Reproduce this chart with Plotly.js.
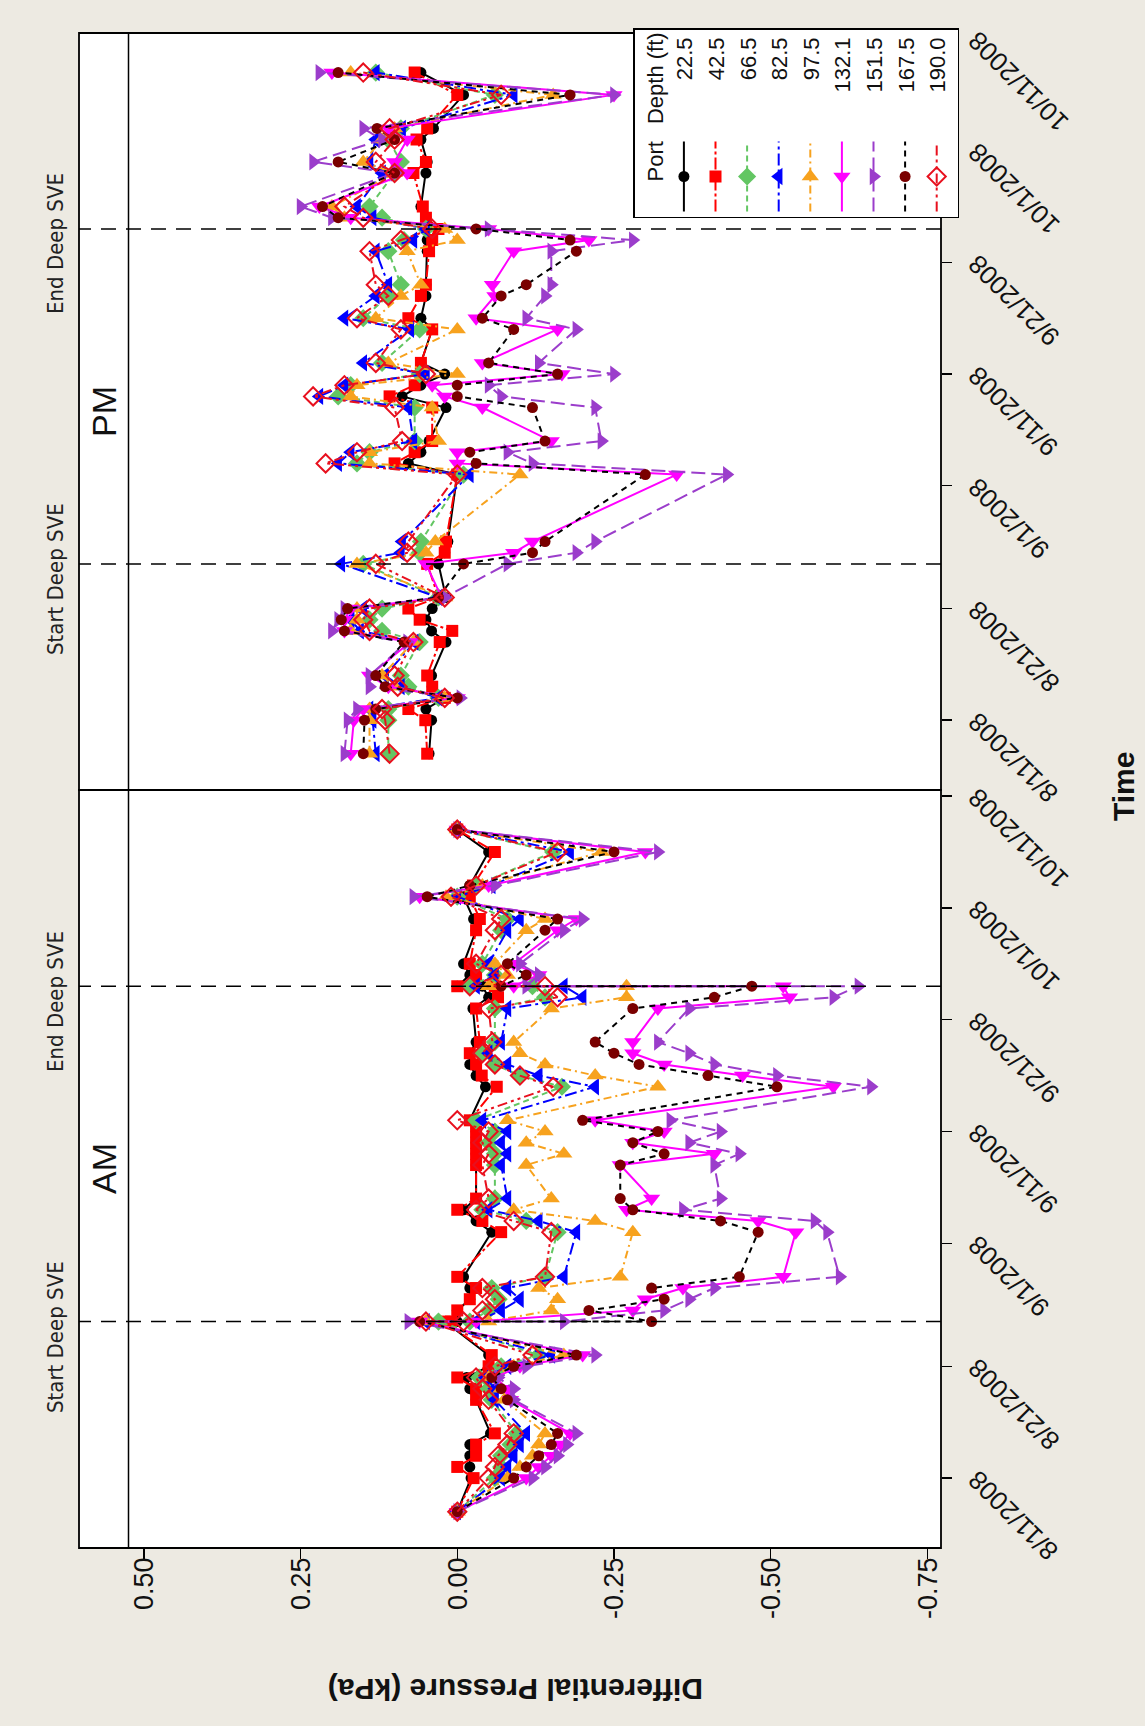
<!DOCTYPE html>
<html>
<head>
<meta charset="utf-8">
<script src="https://cdn.plot.ly/plotly-3.0.1.min.js"></script>
<style>
  html, body { margin: 0; padding: 0; background: #EDEAE2; overflow: hidden; }
  #page { position: relative; width: 1145px; height: 1726px; overflow: hidden; background: #EDEAE2; }
  #chart { position: absolute; left: 0; top: 0; width: 1726px; height: 1145px; transform-origin: 0 0; }
</style>
</head>
<body>
<div id="page"><div id="chart"></div></div>
<script>
// Sampling dates (AM and PM readings)
const amDates = ['2008-08-08','2008-08-11','2008-08-12','2008-08-13','2008-08-14','2008-08-15','2008-08-18','2008-08-19','2008-08-20','2008-08-21','2008-08-22','2008-08-25','2008-08-25','2008-08-26','2008-08-27','2008-08-28','2008-08-29','2008-09-02','2008-09-03','2008-09-04','2008-09-05','2008-09-08','2008-09-09','2008-09-10','2008-09-11','2008-09-12','2008-09-15','2008-09-16','2008-09-17','2008-09-18','2008-09-19','2008-09-22','2008-09-23','2008-09-24','2008-09-24','2008-09-25','2008-09-26','2008-09-29','2008-09-30','2008-10-02','2008-10-03','2008-10-06','2008-10-08'];
const pmDates = ['2008-08-08','2008-08-11','2008-08-12','2008-08-13','2008-08-14','2008-08-15','2008-08-18','2008-08-19','2008-08-20','2008-08-21','2008-08-22','2008-08-25','2008-08-26','2008-08-27','2008-09-02','2008-09-03','2008-09-04','2008-09-05','2008-09-08','2008-09-09','2008-09-10','2008-09-11','2008-09-12','2008-09-15','2008-09-16','2008-09-18','2008-09-19','2008-09-22','2008-09-23','2008-09-24','2008-09-25','2008-09-26','2008-09-29','2008-09-30','2008-10-02','2008-10-03','2008-10-06','2008-10-08'];

// Port depths (ft)
const depths = ['22.5','42.5','66.5','82.5','97.5','132.1','151.5','167.5','190.0'];

// AM differential pressure (kPa), one array per port
const am22_5  = [0,-.022,-.02,-.02,-.02,-.053,-.03,-.02,-.015,-.05,-.05,.02,0,0,-.02,-.02,-.01,-.055,-.03,-.01,-.03,-.03,-.03,-.03,-.03,-.02,-.045,-.03,-.02,-.02,-.03,-.025,-.05,-.04,0,-.02,-.01,-.03,-.026,-.01,-.02,-.05,0];
const am42_5  = [0,-.026,0,-.03,-.03,-.06,-.03,-.03,0,-.05,-.055,.02,.01,0,-.02,-.03,0,-.07,-.04,0,-.03,-.03,-.03,-.03,-.03,-.02,-.063,-.039,-.03,-.02,-.036,-.03,-.065,-.06,0,-.03,-.02,-.03,-.036,-.02,-.025,-.06,0];
const am66_5  = [0,-.06,-.07,-.07,-.085,-.095,-.055,-.05,-.035,-.07,-.13,.03,-.02,-.05,-.066,-.055,-.14,-.16,-.11,-.04,-.06,-.06,-.06,-.05,-.06,-.03,-.167,-.10,-.06,-.04,-.06,-.06,-.14,-.12,-.02,-.06,-.04,-.07,-.08,0,-.03,-.153,0];
const am82_5  = [0,-.07,-.08,-.09,-.10,-.11,-.06,-.06,-.045,-.08,-.15,.05,-.03,-.07,-.10,-.08,-.17,-.19,-.13,-.05,-.08,-.07,-.08,-.07,-.08,-.04,-.22,-.13,-.08,-.05,-.07,-.08,-.20,-.17,-.03,-.06,-.05,-.08,-.10,0,-.055,-.18,0];
const am97_5  = [0,-.08,-.10,-.12,-.13,-.14,-.075,-.07,-.05,-.09,-.17,.05,-.05,-.15,-.16,-.13,-.26,-.28,-.22,-.09,-.15,-.11,-.17,-.11,-.14,-.08,-.32,-.22,-.14,-.10,-.09,-.15,-.27,-.27,-.05,-.08,-.06,-.11,-.14,.018,-.04,-.23,0];
const am132_1 = [0,-.11,-.13,-.15,-.165,-.18,-.085,-.08,-.06,-.10,-.20,.06,-.03,-.28,-.30,-.36,-.52,-.54,-.48,-.27,-.31,-.26,-.41,-.28,-.33,-.22,-.60,-.455,-.33,-.28,-.28,-.32,-.53,-.52,-.09,-.13,-.09,-.16,-.19,.06,-.05,-.30,0];
const am151_5 = [0,-.12,-.14,-.16,-.175,-.19,-.09,-.09,-.065,-.11,-.22,.078,-.17,-.33,-.37,-.41,-.61,-.59,-.57,-.36,-.42,-.41,-.45,-.37,-.42,-.34,-.66,-.51,-.41,-.37,-.32,-.37,-.60,-.64,-.11,-.13,-.10,-.17,-.20,.07,-.06,-.32,0];
const am167_5 = [0,-.09,-.11,-.13,-.15,-.16,-.08,-.07,-.055,-.09,-.19,.06,-.31,-.21,-.33,-.31,-.45,-.48,-.42,-.28,-.26,-.26,-.33,-.28,-.32,-.20,-.51,-.40,-.29,-.25,-.22,-.28,-.41,-.47,-.07,-.11,-.08,-.14,-.16,.048,-.02,-.25,0];
const am190_0 = [0,-.05,-.06,-.065,-.08,-.09,-.05,-.04,-.03,-.06,-.12,.05,-.01,-.04,-.06,-.04,-.14,-.15,-.09,-.03,-.05,-.04,-.05,-.04,-.05,0,-.153,-.10,-.06,-.04,-.056,-.05,-.16,-.14,-.02,-.07,-.03,-.06,-.07,.01,-.03,-.16,0];

// PM differential pressure (kPa), one array per port
const pm22_5  = [.045,.041,.05,.02,.04,.041,.018,.041,.05,.04,.018,.03,.02,.015,0,.078,.058,.045,.018,.088,.058,.02,.058,.04,.058,.05,.05,.048,.048,.03,.05,.058,.05,.048,.058,.038,-.01,.058];
const pm42_5  = [.048,.051,.078,.02,.04,.048,.028,.008,.06,.078,.03,.048,.02,.018,0,.10,.068,.04,.04,.108,.068,.058,.058,.04,.078,.058,.05,.045,.04,.03,.05,.055,.07,.05,.065,.048,0,.068];
const pm66_5  = [.11,.11,.11,.03,.078,.09,.06,.12,.14,.12,.03,.15,.06,.058,-.01,.16,.14,.068,.068,.19,.17,.06,.12,.06,.15,.11,.09,.11,.085,.05,.12,.14,.10,.09,.11,.09,-.06,.13];
const pm82_5  = [.13,.135,.14,.03,.09,.115,.068,.155,.17,.15,.03,.185,.09,.088,-.02,.19,.17,.07,.078,.22,.18,.05,.15,.075,.18,.13,.11,.13,.07,.05,.135,.16,.12,.14,.13,.088,-.09,.13];
const pm97_5  = [.14,.14,.14,.02,.10,.12,.07,.17,.16,.16,.02,.16,.05,.035,-.10,.14,.14,.03,.04,.17,.16,0,.11,0,.13,.09,.058,.08,0,.02,.18,.20,.10,.15,.12,.10,-.153,.17];
const pm132_1 = [.17,.165,.15,0,.11,.14,.075,.18,.18,.17,.025,.05,-.09,-.12,-.35,0,0,-.15,-.04,.02,.04,-.167,-.04,-.16,-.03,-.06,-.056,-.09,-.21,-.05,.17,.22,.08,.10,.08,.11,-.25,.20];
const pm151_5 = [.18,.175,.16,-.005,.14,.14,.08,.20,.19,.18,.02,-.08,-.19,-.22,-.43,-.12,-.08,-.23,-.22,-.07,-.05,-.25,-.13,-.19,-.11,-.14,-.15,-.15,-.28,-.05,.20,.25,.10,.23,.12,.15,-.25,.22];
const pm167_5 = [.15,.148,.13,0,.115,.13,.085,.18,.185,.175,.03,-.01,-.12,-.14,-.30,-.03,-.02,-.14,-.12,0,0,-.16,-.05,-.09,-.04,-.07,-.11,-.19,-.18,-.03,.19,.215,.10,.19,.10,.128,-.18,.19];
const pm190_0 = [.108,.115,.12,.02,.095,.10,.07,.14,.15,.14,.02,.13,.08,.078,0,.21,.16,.088,.10,.23,.18,.05,.13,.09,.16,.11,.13,.14,.09,.04,.15,.18,.10,.13,.10,.108,-.07,.15];

// Axis ticks
const pressureTicks = [0.5, 0.25, 0, -0.25, -0.5, -0.75];
const pressureTickText = ['0.50', '0.25', '0.00', '-0.25', '-0.50', '-0.75'];
const dateTicks = ['2008-08-11','2008-08-21','2008-09-01','2008-09-11','2008-09-21','2008-10-01','2008-10-11'];
const dateTickText = ['8/11/2008','8/21/2008','9/1/2008','9/11/2008','9/21/2008','10/1/2008','10/11/2008'];

// Deep SVE on / off
const sveStart = '2008-08-25';
const sveEnd = '2008-09-24';

const amSeries = [am22_5, am42_5, am66_5, am82_5, am97_5, am132_1, am151_5, am167_5, am190_0];
const pmSeries = [pm22_5, pm42_5, pm66_5, pm82_5, pm97_5, pm132_1, pm151_5, pm167_5, pm190_0];

// Per-port drawing style
const styles = [
  { color: '#000000', line: '#000000', symbol: 'circle',         size: 11, dash: 'solid' },
  { color: '#FF0000', line: '#FF0000', symbol: 'square',         size: 12, dash: '12px,3px,3px,3px' },
  { color: '#63C663', line: '#63C663', symbol: 'diamond',        size: 14, dash: '6px,4px' },
  { color: '#0000FF', line: '#0000FF', symbol: 'triangle-up',    size: 15, dash: '12px,4px,3px,4px' },
  { color: '#F7A21E', line: '#F7A21E', symbol: 'triangle-right', size: 15, dash: '8px,4px,2px,4px' },
  { color: '#FF00FF', line: '#FF00FF', symbol: 'triangle-left',  size: 15, dash: 'solid' },
  { color: '#9B3DCB', line: '#9B3DCB', symbol: 'triangle-down',  size: 15, dash: '14px,6px' },
  { color: '#7A0000', line: '#000000', symbol: 'circle',         size: 11, dash: '6px,5px' },
  { color: '#E8101E', line: '#E8101E', symbol: 'diamond-open',   size: 14, dash: '10px,4px,3px,4px,3px,4px' }
];

const W = 1726, H = 1145;
const panelL = 178, panelMid = 936, panelR = 1693;
const frameTop = 79, stripBottom = 128.5, plotBottom = 941;
const px = v => v / W;
const py = v => (H - v) / H;

const FONT = 'Liberation Sans, Arial, sans-serif';
const NARROW = 'Liberation Sans Narrow, DejaVu Sans Condensed, Liberation Sans, sans-serif';

const traces = [];
depths.forEach((d, i) => {
  const s = styles[i];
  const pad = d.length === 4 ? '\u2007' : '';
  const common = {
    type: 'scatter', mode: 'lines+markers',
    line: { color: s.line, width: 2, dash: s.dash },
    marker: { symbol: s.symbol, size: s.size, color: s.color,
              line: { color: s.color, width: s.symbol === 'diamond-open' ? 2 : 0 } },
    hoverinfo: 'skip'
  };
  traces.push(Object.assign({}, common, {
    x: amDates, y: amSeries[i], xaxis: 'x', yaxis: 'y',
    name: '\u2003\u2003' + pad + d, showlegend: true
  }));
  traces.push(Object.assign({}, common, {
    x: pmDates, y: pmSeries[i], xaxis: 'x2', yaxis: 'y',
    name: d, showlegend: false
  }));
});

const dateAxis = (domain) => ({
  type: 'date', domain: domain, anchor: 'y',
  range: ['2008-08-04 18:00', '2008-10-11 13:00'],
  tickvals: dateTicks, ticktext: dateTickText, tickangle: -45,
  ticks: 'outside', ticklen: 10, tickwidth: 1.5, tickcolor: '#000',
  tickfont: { family: FONT, size: 26, color: '#111' },
  showgrid: false, zeroline: false, showline: false, fixedrange: true
});

const vline = (xref, xval) => ({
  type: 'line', xref: xref, yref: 'paper', x0: xval, x1: xval,
  y0: py(plotBottom), y1: py(frameTop),
  line: { color: '#000', width: 1.5, dash: '15px,10px' }
});

const sveLabel = (xref, xval, text) => ({
  xref: xref, yref: 'paper', x: xval, y: py(55), text: text, showarrow: false,
  xanchor: 'center', yanchor: 'middle', xshift: -15,
  font: { family: NARROW, size: 22, color: '#222' }
});

const centered = (x, y, text, size, angle) => ({
  xref: 'paper', yref: 'paper', x: x, y: y, text: text, showarrow: false,
  xanchor: 'center', yanchor: 'middle', textangle: angle || 0,
  font: { family: FONT, size: size, color: '#111' }
});

const layout = {
  width: W, height: H, autosize: false,
  margin: { l: 0, r: 0, t: 0, b: 0, pad: 0 },
  paper_bgcolor: '#EDEAE2', plot_bgcolor: '#FFFFFF',
  showlegend: true,
  xaxis: dateAxis([px(panelL), px(panelMid)]),
  xaxis2: dateAxis([px(panelMid), px(panelR)]),
  yaxis: {
    domain: [py(plotBottom), py(stripBottom)], anchor: 'x',
    range: [-0.7717, 0.5245],
    tickvals: pressureTicks, ticktext: pressureTickText,
    ticks: 'outside', ticklen: 10, tickwidth: 1.5, tickcolor: '#000',
    ticklabelstandoff: -7,
    tickfont: { family: FONT, size: 27, color: '#111' },
    showgrid: false, zeroline: false, showline: false, fixedrange: true
  },
  legend: {
    x: px(1508), xanchor: 'left', y: py(633), yanchor: 'top',
    bgcolor: '#FFFFFF', bordercolor: '#000', borderwidth: 1.5,
    font: { family: FONT, size: 22, color: '#111' },
    itemwidth: 70, tracegroupgap: 0,
    title: { text: '\u2003\u2002Port\u2002 Depth (ft)', font: { family: FONT, size: 22, color: '#111' } }
  },
  shapes: [
    // strip backgrounds
    { type: 'rect', xref: 'paper', yref: 'paper', x0: px(panelL), x1: px(panelR),
      y0: py(stripBottom), y1: py(frameTop), fillcolor: '#FFFFFF', line: { width: 0 }, layer: 'below' },
    // panel frames
    { type: 'rect', xref: 'paper', yref: 'paper', x0: px(panelL), x1: px(panelMid),
      y0: py(plotBottom), y1: py(frameTop), line: { color: '#000', width: 1.8 } },
    { type: 'rect', xref: 'paper', yref: 'paper', x0: px(panelMid), x1: px(panelR),
      y0: py(plotBottom), y1: py(frameTop), line: { color: '#000', width: 1.8 } },
    // strip divider
    { type: 'line', xref: 'paper', yref: 'paper', x0: px(panelL), x1: px(panelR),
      y0: py(stripBottom), y1: py(stripBottom), line: { color: '#000', width: 1.5 } },
    vline('x', sveStart), vline('x', sveEnd), vline('x2', sveStart), vline('x2', sveEnd)
  ],
  annotations: [
    sveLabel('x', sveStart, 'Start Deep SVE'), sveLabel('x', sveEnd, 'End Deep SVE'),
    sveLabel('x2', sveStart, 'Start Deep SVE'), sveLabel('x2', sveEnd, 'End Deep SVE'),
    centered(px((panelL + panelMid) / 2), py(104), 'AM', 34),
    centered(px((panelMid + panelR) / 2), py(104), 'PM', 34),
    centered(px(36), py(516), '<b>Differential Pressure (kPa)</b>', 30, -90),
    centered(px(939), py(1123), '<b>Time</b>', 30)
  ]
};

Plotly.newPlot('chart', traces, layout, { displayModeBar: false, staticPlot: true }).then(() => {
  // turn the landscape figure a quarter turn counter-clockwise to fill the portrait page
  document.getElementById('chart').style.transform = 'translateY(1726px) rotate(-90deg)';
});
</script>
</body>
</html>
